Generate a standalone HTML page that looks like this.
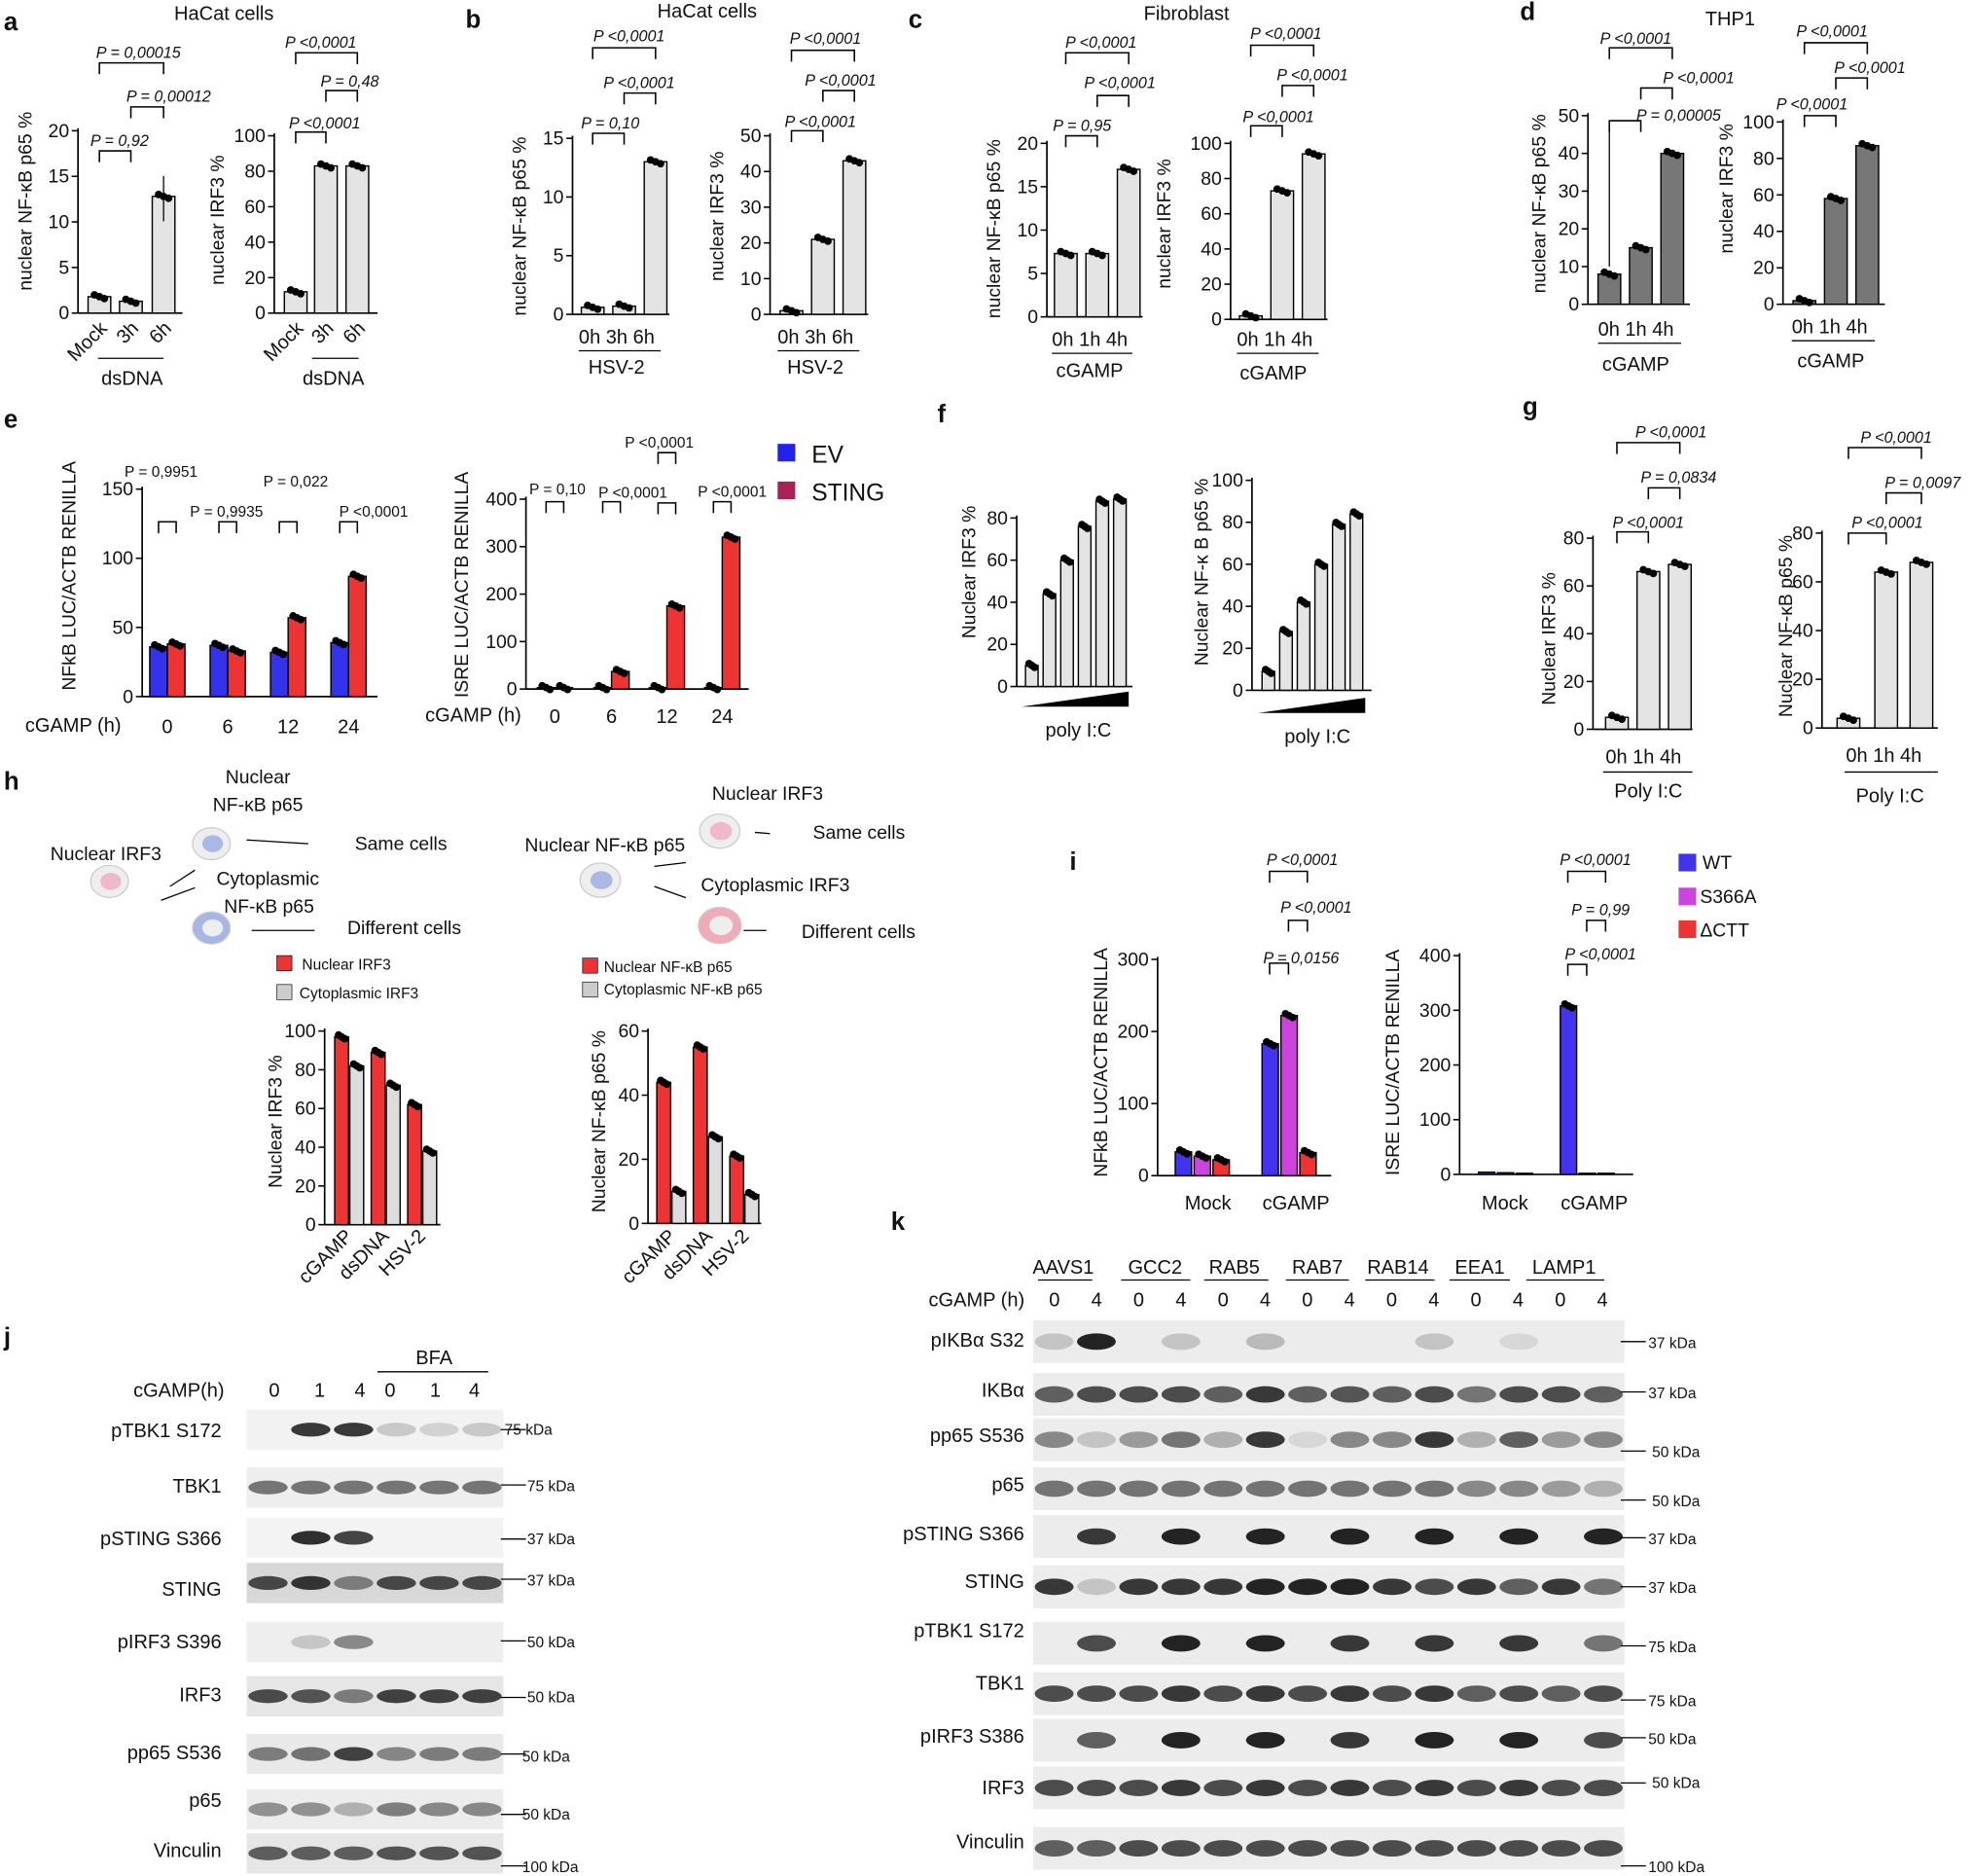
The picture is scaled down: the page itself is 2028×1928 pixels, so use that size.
<!DOCTYPE html><html><head><meta charset="utf-8"><style>html,body{margin:0;padding:0;background:#fff}svg{display:block}text{font-family:"Liberation Sans",sans-serif;fill:#111}.L{font-size:20px;font-weight:bold}.t{font-size:15px}.s{font-size:12px}.p{font-size:12.5px;font-style:italic}.y{font-size:15px}.m{font-size:15.5px}</style></head><body>
<svg id="g" xmlns="http://www.w3.org/2000/svg" width="2028" height="1928" viewBox="0 0 1568 1492" preserveAspectRatio="none">
<rect width="1568" height="1492" fill="#fff"/>
<g id="shp"></g>
<text class="L" x="3" y="24">a</text><text class="L" x="370" y="22">b</text><text class="L" x="722" y="22">c</text><text class="L" x="1208" y="16">d</text>
<text class="L" x="3" y="340">e</text><text class="L" x="745" y="336">f</text><text class="L" x="1210" y="330">g</text><text class="L" x="3" y="628">h</text>
<text class="L" x="850" y="692">i</text><text class="L" x="3" y="1070">j</text><text class="L" x="708" y="978">k</text>
<text class="m" x="178" y="16" text-anchor="middle" font-size="17">HaCat cells</text>
<text class="m" x="562" y="14" text-anchor="middle" font-size="17">HaCat cells</text>
<text class="m" x="943" y="16" text-anchor="middle" font-size="17">Fibroblast</text>
<text class="m" x="1375" y="20" text-anchor="middle" font-size="17">THP1</text>
<text class="y" transform="translate(25,160) rotate(-90)" text-anchor="middle">nuclear NF-κB p65 %</text>
<text class="y" transform="translate(178,175) rotate(-90)" text-anchor="middle">nuclear IRF3 %</text>
<text class="y" transform="translate(418,180) rotate(-90)" text-anchor="middle">nuclear NF-κB p65 %</text>
<text class="y" transform="translate(575,172) rotate(-90)" text-anchor="middle">nuclear IRF3 %</text>
<text class="y" transform="translate(795,182) rotate(-90)" text-anchor="middle">nuclear NF-κB p65 %</text>
<text class="y" transform="translate(930,178) rotate(-90)" text-anchor="middle">nuclear IRF3 %</text>
<text class="y" transform="translate(1228,162) rotate(-90)" text-anchor="middle">nuclear NF-κB p65 %</text>
<text class="y" transform="translate(1377,150) rotate(-90)" text-anchor="middle">nuclear IRF3 %</text>
<text class="y" transform="translate(60,458) rotate(-90)" text-anchor="middle">NFkB LUC/ACTB RENILLA</text>
<text class="y" transform="translate(372,465) rotate(-90)" text-anchor="middle">ISRE LUC/ACTB RENILLA</text>
<text class="y" transform="translate(775,455) rotate(-90)" text-anchor="middle">Nuclear IRF3 %</text>
<text class="y" transform="translate(960,455) rotate(-90)" text-anchor="middle">Nuclear NF-κ B p65 %</text>
<text class="y" transform="translate(1236,508) rotate(-90)" text-anchor="middle">Nuclear IRF3 %</text>
<text class="y" transform="translate(1424,498) rotate(-90)" text-anchor="middle">Nuclear NF-κB p65 %</text>
<text class="y" transform="translate(224,892) rotate(-90)" text-anchor="middle">Nuclear IRF3 %</text>
<text class="y" transform="translate(481,892) rotate(-90)" text-anchor="middle">Nuclear NF-κB p65 %</text>
<text class="y" transform="translate(880,845) rotate(-90)" text-anchor="middle">NFkB LUC/ACTB RENILLA</text>
<text class="y" transform="translate(1112,845) rotate(-90)" text-anchor="middle">ISRE LUC/ACTB RENILLA</text>
<g class="m">
<text transform="translate(86,262) rotate(-45)" text-anchor="end">Mock</text><text transform="translate(111,262) rotate(-45)" text-anchor="end">3h</text><text transform="translate(137,262) rotate(-45)" text-anchor="end">6h</text>
<text x="105" y="306" text-anchor="middle">dsDNA</text>
<text transform="translate(242,262) rotate(-45)" text-anchor="end">Mock</text><text transform="translate(266,262) rotate(-45)" text-anchor="end">3h</text><text transform="translate(291,262) rotate(-45)" text-anchor="end">6h</text>
<text x="265" y="306" text-anchor="middle">dsDNA</text>
<text x="460" y="273">0h 3h 6h</text><text x="490" y="297" text-anchor="middle">HSV-2</text>
<text x="618" y="273">0h 3h 6h</text><text x="648" y="297" text-anchor="middle">HSV-2</text>
<text x="836" y="275">0h 1h 4h</text><text x="866" y="300" text-anchor="middle">cGAMP</text>
<text x="983" y="275">0h 1h 4h</text><text x="1012" y="302" text-anchor="middle">cGAMP</text>
<text x="1270" y="267">0h 1h 4h</text><text x="1300" y="295" text-anchor="middle">cGAMP</text>
<text x="1424" y="265">0h 1h 4h</text><text x="1455" y="292" text-anchor="middle">cGAMP</text>
<text x="20" y="582">cGAMP (h)</text><text x="133" y="583" text-anchor="middle">0</text><text x="181" y="583" text-anchor="middle">6</text><text x="229" y="583" text-anchor="middle">12</text><text x="277" y="583" text-anchor="middle">24</text>
<text x="338" y="574">cGAMP (h)</text><text x="441" y="575" text-anchor="middle">0</text><text x="486" y="575" text-anchor="middle">6</text><text x="530" y="575" text-anchor="middle">12</text><text x="574" y="575" text-anchor="middle">24</text>
<text x="857" y="586" text-anchor="middle">poly I:C</text><text x="1047" y="591" text-anchor="middle">poly I:C</text>
<text x="1276" y="607">0h 1h 4h</text><text x="1310" y="634" text-anchor="middle">Poly I:C</text>
<text x="1467" y="606">0h 1h 4h</text><text x="1502" y="638" text-anchor="middle">Poly I:C</text>
<text transform="translate(281,984) rotate(-45)" text-anchor="end">cGAMP</text><text transform="translate(310,984) rotate(-45)" text-anchor="end">dsDNA</text><text transform="translate(339,984) rotate(-45)" text-anchor="end">HSV-2</text>
<text transform="translate(538,984) rotate(-45)" text-anchor="end">cGAMP</text><text transform="translate(567,984) rotate(-45)" text-anchor="end">dsDNA</text><text transform="translate(596,984) rotate(-45)" text-anchor="end">HSV-2</text>
<text x="960" y="962" text-anchor="middle">Mock</text><text x="1030" y="962" text-anchor="middle">cGAMP</text>
<text x="1196" y="962" text-anchor="middle">Mock</text><text x="1267" y="962" text-anchor="middle">cGAMP</text>
</g>
<rect x="618" y="353" width="14" height="14" fill="#2222ee"/><text x="645" y="368" font-size="19">EV</text>
<rect x="618" y="383" width="14" height="14" fill="#aa2255"/><text x="645" y="398" font-size="19">STING</text>
<rect x="1334" y="679" width="14" height="14" fill="#4433ee"/><text x="1353" y="691" class="t">WT</text>
<rect x="1334" y="706" width="14" height="14" fill="#cc44dd"/><text x="1351" y="718" class="t">S366A</text>
<rect x="1334" y="732" width="14" height="14" fill="#ee3333"/><text x="1351" y="745" class="t">ΔCTT</text>
<g class="t">
<text x="205" y="623" text-anchor="middle">Nuclear</text><text x="205" y="645" text-anchor="middle">NF-κB p65</text>
<text x="40" y="684">Nuclear IRF3</text><text x="282" y="676">Same cells</text>
<text x="172" y="704">Cytoplasmic</text><text x="178" y="726">NF-κB p65</text><text x="276" y="743">Different cells</text>
<text x="610" y="636" text-anchor="middle">Nuclear IRF3</text><text x="646" y="667">Same cells</text>
<text x="417" y="677">Nuclear NF-κB p65</text><text x="557" y="709">Cytoplasmic IRF3</text><text x="637" y="746">Different cells</text>
</g>
<rect x="220" y="760" width="12" height="12" fill="#ee3333" stroke="#000" stroke-width=".5"/><text class="s" x="240" y="771">Nuclear IRF3</text>
<rect x="220" y="783" width="12" height="12" fill="#ccc" stroke="#000" stroke-width=".5"/><text class="s" x="238" y="794">Cytoplasmic IRF3</text>
<rect x="463" y="762" width="12" height="12" fill="#ee3333" stroke="#000" stroke-width=".5"/><text class="s" x="480" y="773">Nuclear NF-κB p65</text>
<rect x="463" y="781" width="12" height="12" fill="#ccc" stroke="#000" stroke-width=".5"/><text class="s" x="480" y="791">Cytoplasmic NF-κB p65</text>
<g class="m">
<text x="106" y="1111">cGAMP(h)</text><text x="218" y="1111" text-anchor="middle">0</text><text x="254" y="1111" text-anchor="middle">1</text><text x="286" y="1111" text-anchor="middle">4</text><text x="310" y="1111" text-anchor="middle">0</text><text x="346" y="1111" text-anchor="middle">1</text><text x="377" y="1111" text-anchor="middle">4</text>
<text x="345" y="1085" text-anchor="middle">BFA</text>
<text x="176" y="1143" text-anchor="end">pTBK1 S172</text><text x="176" y="1187" text-anchor="end">TBK1</text><text x="176" y="1229" text-anchor="end">pSTING S366</text><text x="176" y="1269" text-anchor="end">STING</text><text x="176" y="1311" text-anchor="end">pIRF3 S396</text><text x="176" y="1353" text-anchor="end">IRF3</text><text x="176" y="1399" text-anchor="end">pp65 S536</text><text x="176" y="1437" text-anchor="end">p65</text><text x="176" y="1477" text-anchor="end">Vinculin</text>
<text x="738" y="1039">cGAMP (h)</text>
<text x="814" y="1071" text-anchor="end">pIKBα S32</text><text x="814" y="1111" text-anchor="end">IKBα</text><text x="814" y="1147" text-anchor="end">pp65 S536</text><text x="814" y="1186" text-anchor="end">p65</text><text x="814" y="1225" text-anchor="end">pSTING S366</text><text x="814" y="1263" text-anchor="end">STING</text><text x="814" y="1302" text-anchor="end">pTBK1 S172</text><text x="814" y="1344" text-anchor="end">TBK1</text><text x="814" y="1386" text-anchor="end">pIRF3 S386</text><text x="814" y="1427" text-anchor="end">IRF3</text><text x="814" y="1470" text-anchor="end">Vinculin</text>
<text x="845" y="1013" text-anchor="middle">AAVS1</text><text x="918" y="1013" text-anchor="middle">GCC2</text><text x="981" y="1013" text-anchor="middle">RAB5</text><text x="1047" y="1013" text-anchor="middle">RAB7</text><text x="1111" y="1013" text-anchor="middle">RAB14</text><text x="1176" y="1013" text-anchor="middle">EEA1</text><text x="1243" y="1013" text-anchor="middle">LAMP1</text>
</g>
<g class="s">
<text x="401" y="1141">75 kDa</text><text x="419" y="1186">75 kDa</text><text x="419" y="1228">37 kDa</text><text x="419" y="1261">37 kDa</text><text x="419" y="1310">50 kDa</text><text x="419" y="1354">50 kDa</text><text x="415" y="1401">50 kDa</text><text x="415" y="1447">50 kDa</text><text x="415" y="1489">100 kDa</text>
<text x="1310" y="1072">37 kDa</text><text x="1310" y="1112">37 kDa</text><text x="1313" y="1159">50 kDa</text><text x="1313" y="1198">50 kDa</text><text x="1310" y="1228">37 kDa</text><text x="1310" y="1267">37 kDa</text><text x="1310" y="1314">75 kDa</text><text x="1310" y="1357">75 kDa</text><text x="1310" y="1387">50 kDa</text><text x="1313" y="1422">50 kDa</text><text x="1310" y="1489">100 kDa</text>
</g>
<g class="p">
<text x="110" y="46" text-anchor="middle">P = 0,00015</text><text x="134" y="81" text-anchor="middle">P = 0,00012</text><text x="95" y="116" text-anchor="middle">P = 0,92</text>
<text x="255" y="38" text-anchor="middle">P &lt;0,0001</text><text x="278" y="69" text-anchor="middle">P = 0,48</text><text x="258" y="102" text-anchor="middle">P &lt;0,0001</text>
<text x="500" y="33" text-anchor="middle">P &lt;0,0001</text><text x="508" y="70" text-anchor="middle">P &lt;0,0001</text><text x="485" y="102" text-anchor="middle">P = 0,10</text>
<text x="656" y="35" text-anchor="middle">P &lt;0,0001</text><text x="668" y="68" text-anchor="middle">P &lt;0,0001</text><text x="652" y="101" text-anchor="middle">P &lt;0,0001</text>
<text x="875" y="38" text-anchor="middle">P &lt;0,0001</text><text x="890" y="70" text-anchor="middle">P &lt;0,0001</text><text x="860" y="104" text-anchor="middle">P = 0,95</text>
<text x="1022" y="31" text-anchor="middle">P &lt;0,0001</text><text x="1043" y="64" text-anchor="middle">P &lt;0,0001</text><text x="1016" y="97" text-anchor="middle">P &lt;0,0001</text>
<text x="1300" y="35" text-anchor="middle">P &lt;0,0001</text><text x="1350" y="66" text-anchor="middle">P &lt;0,0001</text><text x="1334" y="96" text-anchor="middle">P = 0,00005</text>
<text x="1456" y="29" text-anchor="middle">P &lt;0,0001</text><text x="1486" y="58" text-anchor="middle">P &lt;0,0001</text><text x="1440" y="87" text-anchor="middle">P &lt;0,0001</text>
<text x="1328" y="348" text-anchor="middle">P &lt;0,0001</text><text x="1334" y="384" text-anchor="middle">P = 0,0834</text><text x="1310" y="420" text-anchor="middle">P &lt;0,0001</text>
<text x="1507" y="352" text-anchor="middle">P &lt;0,0001</text><text x="1528" y="388" text-anchor="middle">P = 0,0097</text><text x="1500" y="420" text-anchor="middle">P &lt;0,0001</text>
<text x="1035" y="688" text-anchor="middle">P &lt;0,0001</text><text x="1046" y="726" text-anchor="middle">P &lt;0,0001</text><text x="1034" y="766" text-anchor="middle">P = 0,0156</text>
<text x="1268" y="688" text-anchor="middle">P &lt;0,0001</text><text x="1272" y="728" text-anchor="middle">P = 0,99</text><text x="1272" y="763" text-anchor="middle">P &lt;0,0001</text>
</g>
<g class="s">
<text x="128" y="379" text-anchor="middle">P = 0,9951</text><text x="180" y="411" text-anchor="middle">P = 0,9935</text><text x="235" y="387" text-anchor="middle">P = 0,022</text><text x="297" y="411" text-anchor="middle">P &lt;0,0001</text>
<text x="443" y="393" text-anchor="middle">P = 0,10</text><text x="503" y="396" text-anchor="middle">P &lt;0,0001</text><text x="524" y="356" text-anchor="middle">P &lt;0,0001</text><text x="582" y="395" text-anchor="middle">P &lt;0,0001</text>
</g>
<g id="tk" class="t"></g>
</svg>
<script>
var NS="http://www.w3.org/2000/svg",S=document.getElementById("shp"),T=document.getElementById("tk");
function el(t,a,p){var e=document.createElementNS(NS,t);for(var k in a)e.setAttribute(k,a[k]);(p||S).appendChild(e);return e}
function ax(x,yT,yB,max,step,x2){var sc=(yB-yT)/max;el("line",{x1:x,y1:yT-2,x2:x,y2:yB,stroke:"#000","stroke-width":1.3});
 el("line",{x1:x,y1:yB,x2:x2,y2:yB,stroke:"#000","stroke-width":1.3});
 for(var v=0;v<=max+1e-9;v+=step){var y=yB-v*sc;el("line",{x1:x-5,y1:y,x2:x,y2:y,stroke:"#000","stroke-width":1.2});var t=el("text",{x:x-7,y:y+5,"text-anchor":"end"},T);t.textContent=v;}
 return function(bx,w,val,fill,dots){var h=val*sc;el("rect",{x:bx,y:yB-h,width:w,height:h,fill:fill||"#e4e4e4",stroke:"#000","stroke-width":1.1});
  if(dots!==0){for(var i=0;i<3;i++)el("circle",{cx:bx+w/2+(i-1)*w*0.22,cy:yB-h+(i-1)*1.5,r:3,fill:"#000"});}}}
function bk(x1,x2,y){el("path",{d:"M"+x1+" "+(y+9)+"V"+y+"H"+x2+"V"+(y+9),fill:"none",stroke:"#000","stroke-width":1.2})}
var b;
b=ax(62,104,249,20,5,145);b(70,18,1.8);b(95,18,1.3);b(121,18,12.8);el("line",{x1:130,y1:140,x2:130,y2:176,stroke:"#000"});
bk(79,104,120);bk(104,130,85);bk(79,130,50);el("line",{x1:78,y1:285,x2:130,y2:285,stroke:"#000"});
b=ax(218,108,249,100,20,300);b(226,18,12);b(250,18,83);b(275,18,83);bk(235,259,105);bk(259,284,72);bk(235,284,42);el("line",{x1:248,y1:285,x2:285,y2:285,stroke:"#000"});
b=ax(455,110,250,15,5,532);b(462,18,.6);b(487,18,.7);b(512,18,13);bk(471,496,106);bk(496,521,74);bk(471,521,38);el("line",{x1:460,y1:279,x2:525,y2:279,stroke:"#000"});
b=ax(612,108,250,50,10,690);b(620,18,1);b(645,18,21);b(670,18,43);bk(629,654,104);bk(654,679,72);bk(629,679,40);el("line",{x1:618,y1:279,x2:683,y2:279,stroke:"#000"});
b=ax(832,114,252,20,5,908);b(838,18,7.3);b(863,18,7.3);b(888,18,17);bk(847,872,108);bk(872,897,76);bk(847,897,42);el("line",{x1:836,y1:281,x2:900,y2:281,stroke:"#000"});
b=ax(978,114,254,100,20,1055);b(985,18,2);b(1010,18,73);b(1035,18,94);bk(994,1019,100);bk(1019,1044,68);bk(994,1044,36);el("line",{x1:983,y1:281,x2:1048,y2:281,stroke:"#000"});
b=ax(1262,92,242,50,10,1343);b(1270,18,8,"#777");b(1295,18,15,"#777");b(1320,18,40,"#777");bk(1279,1304,96);bk(1304,1329,70);bk(1279,1329,38);
el("path",{d:"M1279 212V96",stroke:"#000",fill:"none"});el("line",{x1:1270,y1:273,x2:1336,y2:273,stroke:"#000"});
b=ax(1417,97,242,100,20,1498);b(1425,18,2,"#777");b(1450,18,58,"#777");b(1475,18,87,"#777");bk(1434,1459,92);bk(1459,1484,62);bk(1434,1484,34);el("line",{x1:1424,y1:271,x2:1490,y2:271,stroke:"#000"});
b=ax(113,389,554,150,50,300);[[36,38],[37,33],[32,57],[39,87]].forEach(function(v,i){var x=[119,167,215,263][i];b(x,14,v[0],"#3333ee");b(x+14,14,v[1],"#ee3333");});
bk(126,140,415);bk(174,188,415);bk(222,236,415);bk(270,284,415);
b=ax(418,397,548,400,100,595);[[3,3],[3,37],[3,175],[3,320]].forEach(function(v,i){var x=[427,472,516,560][i];b(x,14,v[0],"#3333ee");b(x+14,14,v[1],"#ee3333");});
bk(434,448,399);bk(479,493,399);bk(523,537,400);bk(567,581,399);bk(523,537,360);
b=ax(808,412,546,80,20,900);[10,44,60,76,88,89].forEach(function(v,i){b(815+i*14,10,v);});el("path",{d:"M812 562L897 550V562Z",fill:"#000"});
b=ax(995,382,549,100,20,1090);[9,28,42,60,79,84].forEach(function(v,i){b(1003+i*14,10,v);});el("path",{d:"M1000 567L1085 555V567Z",fill:"#000"});
b=ax(1266,428,580,80,20,1345);b(1276,18,5);b(1301,18,66);b(1326,18,69);bk(1285,1310,423);bk(1310,1335,388);bk(1285,1335,352);el("line",{x1:1274,y1:614,x2:1345,y2:614,stroke:"#000"});
b=ax(1448,424,579,80,20,1540);b(1460,18,4);b(1490,18,64);b(1518,18,68);bk(1469,1499,424);bk(1499,1527,392);bk(1469,1527,356);el("line",{x1:1466,y1:614,x2:1540,y2:614,stroke:"#000"});
b=ax(258,820,974,100,20,350);[[97,82],[89,72],[62,38]].forEach(function(v,i){var x=266+i*29;b(x,11,v[0],"#ee3333");b(x+12,11,v[1],"#ddd");});
b=ax(515,820,973,60,20,605);[[44,10],[55,27],[21,9]].forEach(function(v,i){var x=522+i*29;b(x,11,v[0],"#ee3333");b(x+12,11,v[1],"#ddd");});
function cell(x,y,r,c,n){el("ellipse",{cx:x,cy:y,rx:r,ry:r*0.85,fill:c,stroke:"#ccc"});el("ellipse",{cx:x+1,cy:y,rx:r*0.55,ry:r*0.45,fill:n});}
cell(168,671,15,"#eee","#aab8e6");cell(87,701,15,"#eee","#f0b8c8");cell(168,738,15,"#a8b6e6","#eee");
cell(572,661,16,"#eee","#f0b8c8");cell(477,700,16,"#eee","#aab8e6");cell(572,736,17,"#f0aab8","#eee");
[[196,668,245,671],[155,692,135,705],[155,706,128,716],[600,662,612,663],[520,689,545,686],[520,705,545,714],[591,740,609,740],[200,740,250,740]].forEach(function(l){el("line",{x1:l[0],y1:l[1],x2:l[2],y2:l[3],stroke:"#000"})});
b=ax(920,763,935,300,100,1058);[33,27,22].forEach(function(v,i){b(934+i*15,13,v,["#4433ee","#cc44dd","#ee3333"][i]);});[183,222,32].forEach(function(v,i){b(1003+i*15,13,v,["#4433ee","#cc44dd","#ee3333"][i]);});
bk(1009,1024,766);bk(1024,1039,732);bk(1009,1039,693);
b=ax(1160,760,934,400,100,1298);[4,3,2].forEach(function(v,i){b(1175+i*15,13,v,["#4433ee","#cc44dd","#ee3333"][i],0);});[308,2,2].forEach(function(v,i){b(1240+i*15,13,v,["#4433ee","#cc44dd","#ee3333"][i],i?0:1);});
bk(1246,1261,767);bk(1261,1276,732);bk(1246,1276,693);
function row(x,w,y,h,bg,bands,n,bh){el("rect",{x:x,y:y,width:w,height:h,fill:bg});var s=w/n;bands.forEach(function(v,i){if(v>0)el("ellipse",{cx:x+i*s+s/2,cy:y+h/2,rx:s*0.46,ry:bh/2,fill:"#000",opacity:Math.min(v,1)*0.85});});}
var J=[[1121,[0,.9,.9,.2,.15,.2],"#f2f2f2"],[1167,[.6,.6,.6,.6,.6,.6],"#eee"],[1207,[0,.95,.85,0,0,0],"#f3f3f3"],[1243,[.8,.9,.5,.8,.8,.8],"#d8d8d8"],[1290,[0,.2,.5,0,0,0],"#eee"],[1333,[.8,.75,.55,.85,.85,.85],"#e6e6e6"],[1379,[.55,.6,.85,.5,.55,.55],"#e9e9e9"],[1423,[.45,.45,.3,.55,.5,.5],"#ececec"],[1458,[.7,.7,.7,.75,.75,.75],"#e6e6e6"]];
J.forEach(function(r){row(196,204,r[0],32,r[2],r[1],6,11)});
[1137,1181,1224,1256,1305,1350,1395,1443,1484].forEach(function(y){el("line",{x1:398,y1:y,x2:418,y2:y,stroke:"#000"})});
el("line",{x1:300,y1:1091,x2:388,y2:1091,stroke:"#000"});
var k=[[1050,[.2,1,0,.2,0,.25,0,0,0,.2,0,.1,0,0]],[1092,[.7,.8,.8,.8,.7,.9,.7,.75,.7,.8,.6,.8,.8,.7]],[1128,[.5,.2,.4,.6,.3,.9,.1,.5,.5,.9,.3,.7,.4,.5]],[1167,[.6,.6,.6,.6,.6,.6,.6,.6,.6,.6,.5,.5,.4,.3]],[1205,[0,.9,0,1,0,1,0,1,0,1,0,1,0,1]],[1245,[.9,.2,.9,.9,.9,1,1,1,.9,.8,.9,.7,.9,.6]],[1290,[0,.8,0,1,0,1,0,.9,0,.9,0,.9,0,.6]],[1330,[.8,.8,.8,.9,.8,.9,.8,.9,.8,.9,.7,.8,.7,.8]],[1367,[0,.7,0,1,0,1,0,.9,0,1,0,1,0,.8]],[1405,[.8,.8,.8,.9,.8,.9,.8,.9,.8,.9,.8,.9,.8,.8]],[1453,[.7,.7,.8,.8,.8,.8,.8,.8,.8,.8,.8,.8,.8,.8]]];
k.forEach(function(r){row(821,470,r[0],34,"#ececec",r[1],14,13)});
[1067,1107,1154,1193,1223,1262,1309,1352,1382,1418,1484].forEach(function(y){el("line",{x1:1288,y1:y,x2:1308,y2:y,stroke:"#000"})});
[[825,868],[891,946],[957,1008],[1022,1072],[1085,1140],[1152,1200],[1213,1275]].forEach(function(l){el("line",{x1:l[0],y1:1018,x2:l[1],y2:1018,stroke:"#000"})});
for(var i=0;i<14;i++){var t=el("text",{x:838+i*33.5,y:1039,"text-anchor":"middle","class":"m"},T);t.textContent=i%2?"4":"0";}
</script>
</body></html>
